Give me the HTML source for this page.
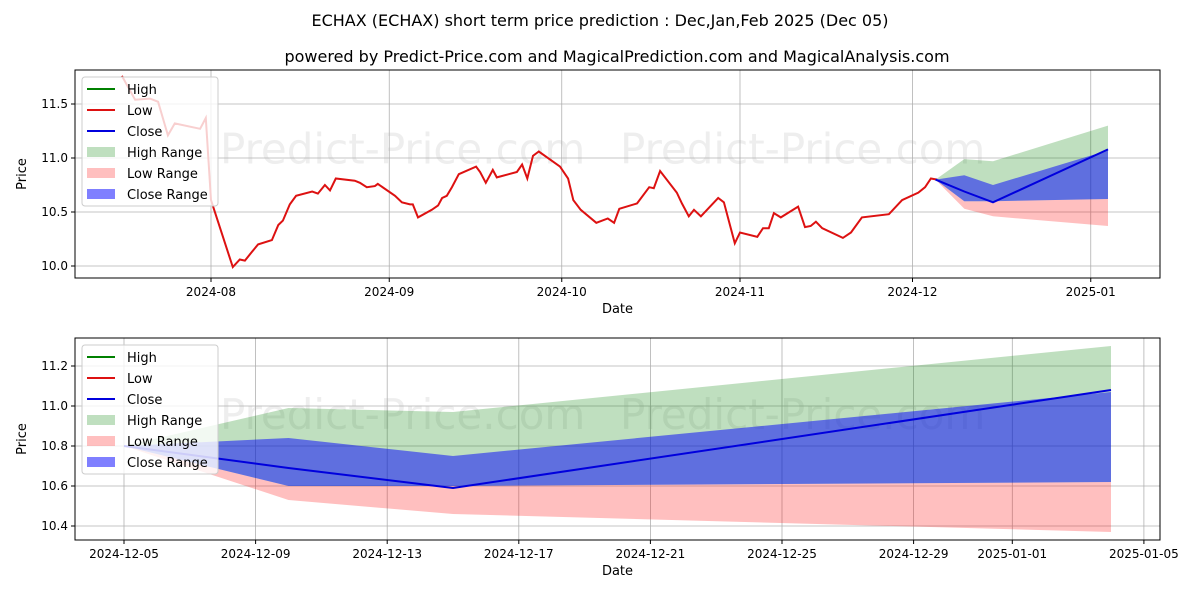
<!DOCTYPE html>
<html><head><meta charset="utf-8"><style>
body{margin:0;background:#fff;}
svg text{font-family:"DejaVu Sans","Liberation Sans",sans-serif;}
</style></head><body>
<svg id="c" width="1200" height="600" xmlns="http://www.w3.org/2000/svg">
<rect width="1200" height="600" fill="#fff"/>
<text x="600" y="26" text-anchor="middle" font-size="16">ECHAX (ECHAX) short term price prediction : Dec,Jan,Feb 2025 (Dec 05)</text>
<text x="617" y="62" text-anchor="middle" font-size="16">powered by Predict-Price.com and MagicalPrediction.com and MagicalAnalysis.com</text>
<g id="top"></g><g id="bot"></g>
</svg>
<script>
// history: days since 2024-08-01, low values
const histDays=[-15.5,-13.2,-10.6,-9.2,-7.5,-6.3,-1.9,-0.9,0,3.8,5.0,5.9,7.1,8.2,10.6,11.7,12.5,13.7,14.8,17.6,18.6,19.8,20.7,21.7,25.0,25.9,27.1,28.5,29.0,32.0,33.2,34.6,35.1,36.0,38.4,39.5,40.2,41.0,41.9,43.1,46.1,46.8,47.8,49.0,49.7,53.2,54.1,55.0,56.0,57.0,60.7,62.1,63.0,64.3,67.0,69.0,70.1,71.0,74.1,76.2,77.0,78.1,81.0,81.9,83.1,84.0,85.2,88.2,89.2,89.9,91.1,92.0,95.0,96.0,97.0,97.9,99.1,102.1,103.3,104.3,105.2,106.3,109.9,111.3,113.2,117.9,120.2,123.0,124.2,125.2,126.3];
const histLow=[11.76,11.54,11.55,11.52,11.21,11.32,11.27,11.37,10.61,9.99,10.06,10.05,10.13,10.20,10.24,10.38,10.42,10.57,10.65,10.69,10.67,10.75,10.70,10.81,10.79,10.77,10.73,10.74,10.76,10.65,10.59,10.57,10.57,10.45,10.52,10.56,10.63,10.65,10.73,10.85,10.92,10.87,10.77,10.89,10.82,10.87,10.94,10.81,11.02,11.06,10.92,10.81,10.61,10.52,10.40,10.44,10.40,10.53,10.58,10.73,10.72,10.88,10.68,10.58,10.46,10.52,10.46,10.63,10.59,10.45,10.21,10.31,10.27,10.35,10.35,10.49,10.45,10.55,10.36,10.37,10.41,10.35,10.26,10.31,10.45,10.48,10.61,10.68,10.73,10.81,10.80];
// forecast (days since 2024-08-01)
const fcDays=[126,131,136,156];
const highHi=[10.8,10.99,10.97,11.30];
const closeHi=[10.8,10.84,10.75,11.07];
const closeVals=[10.8,10.69,10.59,11.08];
const closeLo=[10.8,10.60,10.60,10.62];
const lowLo=[10.8,10.53,10.46,10.37];
const topXTicks=["2024-08","2024-09","2024-10","2024-11","2024-12","2025-01"];
const topXTickDays=[0,31,61,92,122,153];
const topYTicks=[10.0,10.5,11.0,11.5];
const botXTicks=["2024-12-05","2024-12-09","2024-12-13","2024-12-17","2024-12-21","2024-12-25","2024-12-29","2025-01-01","2025-01-05"];
const botXTickDays=[126,130,134,138,142,146,150,153,157];
const botYTicks=[10.4,10.6,10.8,11.0,11.2];

const NS="http://www.w3.org/2000/svg";
function mk(p,tag,attrs){const e=document.createElementNS(NS,tag);for(const k in attrs)e.setAttribute(k,attrs[k]);p.appendChild(e);return e;}
function pts(xs,ys,fx,fy){return xs.map((d,i)=>fx(d).toFixed(1)+","+fy(ys[i]).toFixed(1)).join(" ");}
function band(xs,up,lo,fx,fy){return pts(xs,up,fx,fy)+" "+pts(xs.slice().reverse(),lo.slice().reverse(),fx,fy);}

function panel(g,box,fx,fy,xt,xtd,yt,yfmt,history){
  const cp="clip"+box.y0;
  const cl=mk(g,"clipPath",{id:cp});mk(cl,"rect",{x:box.x0,y:box.y0,width:box.x1-box.x0,height:box.y1-box.y0});
  // watermark
  const w1=mk(g,"text",{x:box.x0+145,y:box.y0+(box.y1-box.y0)*0.45,"font-size":42,fill:"#eeeeee"});
  w1.textContent="Predict-Price.com";
  
  
  const w2=mk(g,"text",{x:box.x0+545,y:box.y0+(box.y1-box.y0)*0.45,"font-size":42,fill:"#eeeeee"});
  w2.textContent="Predict-Price.com";
  
  
  // grid + ticks
  xtd.forEach((d,i)=>{const x=fx(d);
    const l=mk(g,"line",{x1:x,x2:x,y1:box.y0,y2:box.y1,stroke:"#b0b0b0","stroke-width":0.8});
    
    
    mk(g,"line",{x1:x,x2:x,y1:box.y1,y2:box.y1+4,stroke:"#000"});
    const t=mk(g,"text",{x:x,y:box.y1+18,"text-anchor":"middle","font-size":12});t.textContent=xt[i];
    
    });
  yt.forEach(v=>{const y=fy(v);
    const l=mk(g,"line",{x1:box.x0,x2:box.x1,y1:y,y2:y,stroke:"#b0b0b0","stroke-width":0.8});
    
    
    mk(g,"line",{x1:box.x0-4,x2:box.x0,y1:y,y2:y,stroke:"#000"});
    const t=mk(g,"text",{x:box.x0-7,y:y+4,"text-anchor":"end","font-size":12});t.textContent=v.toFixed(yfmt);
    
    });
  const gc=mk(g,"g",{"clip-path":"url(#"+cp+")"});
  const b1=mk(gc,"polygon",{points:band(fcDays,highHi,closeLo,fx,fy),fill:"#008000","fill-opacity":0.25});
  
  
  const b2=mk(gc,"polygon",{points:band(fcDays,closeLo,lowLo,fx,fy),fill:"#ff0000","fill-opacity":0.25});
  
  
  const b3=mk(gc,"polygon",{points:band(fcDays,closeHi,closeLo,fx,fy),fill:"#0000ff","fill-opacity":0.5});
  
  
  if(history){const h=mk(gc,"polyline",{points:pts(histDays,histLow,fx,fy),fill:"none",stroke:"#dd1111","stroke-width":2});
    
    }
  const c=mk(gc,"polyline",{points:pts(fcDays,closeVals,fx,fy),fill:"none",stroke:"#0000dd","stroke-width":2});
  
  
  const fr=mk(g,"rect",{x:box.x0,y:box.y0,width:box.x1-box.x0,height:box.y1-box.y0,fill:"none",stroke:"#000","stroke-width":1});
  
  
  const xl=mk(g,"text",{x:(box.x0+box.x1)/2,y:box.y1+35,"text-anchor":"middle","font-size":13});xl.textContent="Date";
  
  
  const yl=mk(g,"text",{x:0,y:0,"text-anchor":"middle","font-size":13,transform:"translate(26,"+((box.y0+box.y1)/2)+") rotate(-90)"});yl.textContent="Price";
  
  
  // legend
  const lg=mk(g,"g",{});
  
  
  mk(lg,"rect",{x:box.x0+7,y:box.y0+7,width:136,height:129,rx:3,fill:"#fff","fill-opacity":0.8,stroke:"#cccccc"});
  const items=[["High","line","#008000"],["Low","line","#dd1111"],["Close","line","#0000dd"],["High Range","box","rgba(0,128,0,0.25)"],["Low Range","box","rgba(255,0,0,0.25)"],["Close Range","box","rgba(0,0,255,0.5)"]];
  items.forEach((it,i)=>{const y=box.y0+19+i*21;
    if(it[1]=="line")mk(lg,"line",{x1:box.x0+12,x2:box.x0+40,y1:y,y2:y,stroke:it[2],"stroke-width":2});
    else mk(lg,"rect",{x:box.x0+12,y:y-5,width:28,height:10,fill:it[2]});
    const t=mk(lg,"text",{x:box.x0+52,y:y+5,"font-size":13});t.textContent=it[0];
    
    });
}
const tb={x0:75,x1:1160,y0:70,y1:278};
panel(document.getElementById("top"),tb,d=>211+d*5.75,v=>266-(v-10)*108,topXTicks,topXTickDays,topYTicks,1,true);
const bb={x0:75,x1:1160,y0:338,y1:540};
panel(document.getElementById("bot"),bb,d=>124+(d-126)*32.9,v=>446-(v-10.8)*200,botXTicks,botXTickDays,botYTicks,1,false);
</script>
</body></html>
